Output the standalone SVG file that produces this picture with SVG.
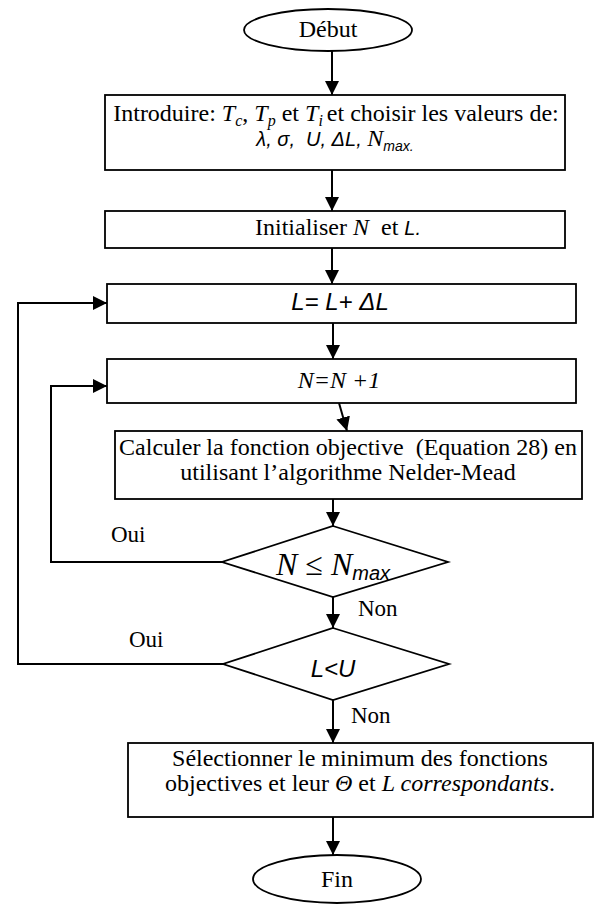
<svg xmlns="http://www.w3.org/2000/svg" width="597" height="907" viewBox="0 0 597 907">
<defs>
<marker id="ah" viewBox="0 0 14 14" refX="14" refY="7" markerWidth="14" markerHeight="14" markerUnits="userSpaceOnUse" orient="auto"><path d="M0,0 L14,7 L0,14 z" fill="#000"/></marker>
<style>
.shape{fill:#fff;stroke:#000;stroke-width:1.8}
.conn{fill:none;stroke:#000;stroke-width:2}
.t{font-family:"Liberation Serif","Times New Roman",serif;font-size:24px;fill:#000;white-space:pre}
.c{text-anchor:middle}
.it{font-style:italic}
.sans{font-family:"Liberation Sans",Arial,sans-serif;font-style:italic}
.lbl{font-family:"Liberation Serif","Times New Roman",serif;font-size:23px;fill:#000}
</style>
</defs>
<rect width="597" height="907" fill="#fff"/>
<g id="connectors">
<line class="conn" x1="332" y1="51" x2="332" y2="95" marker-end="url(#ah)"/>
<line class="conn" x1="332" y1="170" x2="332" y2="211" marker-end="url(#ah)"/>
<line class="conn" x1="332" y1="248" x2="332" y2="284" marker-end="url(#ah)"/>
<line class="conn" x1="333" y1="323" x2="333" y2="359" marker-end="url(#ah)"/>
<line class="conn" x1="339" y1="403" x2="347" y2="431" marker-end="url(#ah)"/>
<line class="conn" x1="333" y1="499" x2="333" y2="526" marker-end="url(#ah)"/>
<line class="conn" x1="333" y1="597" x2="333" y2="628" marker-end="url(#ah)"/>
<line class="conn" x1="333" y1="700" x2="333" y2="743" marker-end="url(#ah)"/>
<line class="conn" x1="333" y1="817" x2="333" y2="855" marker-end="url(#ah)"/>
<polyline class="conn" points="222,562 51,562 51,386 107,386" marker-end="url(#ah)"/>
<polyline class="conn" points="223,664 18,664 18,303 107,303" marker-end="url(#ah)"/>
<text class="lbl" x="111" y="542">Oui</text>
<text class="lbl" x="358" y="616">Non</text>
<text class="lbl" x="129" y="647">Oui</text>
<text class="lbl" x="351" y="723">Non</text>
</g>
<g id="debut">
<ellipse class="shape" cx="328" cy="30" rx="84" ry="21"/>
<text class="t c" x="328" y="37">Début</text>
</g>
<g id="introduire">
<rect class="shape" x="105" y="95" width="460" height="75"/>
<text class="t c" x="336" y="121">Introduire: <tspan class="it">T</tspan><tspan class="it" font-size="16" dy="5">c</tspan><tspan dy="-5">, </tspan><tspan class="it">T</tspan><tspan class="it" font-size="16" dy="5">p</tspan><tspan dy="-5"> et </tspan><tspan class="it">T</tspan><tspan class="it" font-size="16" dy="5">i </tspan><tspan dy="-5">et choisir les valeurs de:</tspan></text>
<text class="t c" x="335" y="146"><tspan class="sans" font-size="20">λ, σ,  U, ΔL, </tspan><tspan class="it">N</tspan><tspan class="sans" font-size="14" dy="5">max</tspan><tspan class="sans" font-size="14">.</tspan></text>
</g>
<g id="initialiser">
<rect class="shape" x="105" y="211" width="460" height="37"/>
<text class="t c" x="338" y="235">Initialiser <tspan class="it">N</tspan>  et <tspan class="sans" font-size="20">L.</tspan></text>
</g>
<g id="incL">
<rect class="shape" x="107" y="284" width="469" height="39"/>
<text class="t c sans" font-size="19" x="340" y="310">L= L+ ΔL</text>
</g>
<g id="incN">
<rect class="shape" x="107" y="359" width="469" height="44"/>
<text class="t c it" font-size="21" x="339" y="388">N=N +1</text>
</g>
<g id="calculer">
<rect class="shape" x="115" y="431" width="467" height="68"/>
<text class="t c" x="348" y="455">Calculer la fonction objective  (Equation 28) en</text>
<text class="t c" x="348" y="480">utilisant l’algorithme Nelder-Mead</text>
</g>
<g id="testN">
<polygon class="shape" points="333,526 448,562 333,597 222,562"/>
<text class="t c" x="333" y="575"><tspan class="it" font-size="32">N ≤ N</tspan><tspan class="sans" font-size="20" dy="5">max</tspan></text>
</g>
<g id="testL">
<polygon class="shape" points="333,628 449,664 333,700 223,664"/>
<text class="t c sans" font-size="28" x="333" y="677">L&lt;U</text>
</g>
<g id="selectionner">
<rect class="shape" x="128" y="743" width="465" height="74"/>
<text class="t c" x="360" y="766">Sélectionner le minimum des fonctions</text>
<text class="t c" x="360" y="791">objectives et leur <tspan class="it">Θ</tspan> et <tspan class="it">L correspondants</tspan>.</text>
</g>
<g id="fin">
<ellipse class="shape" cx="337" cy="879" rx="84" ry="24"/>
<text class="t c" x="337" y="887">Fin</text>
</g>
</svg>
